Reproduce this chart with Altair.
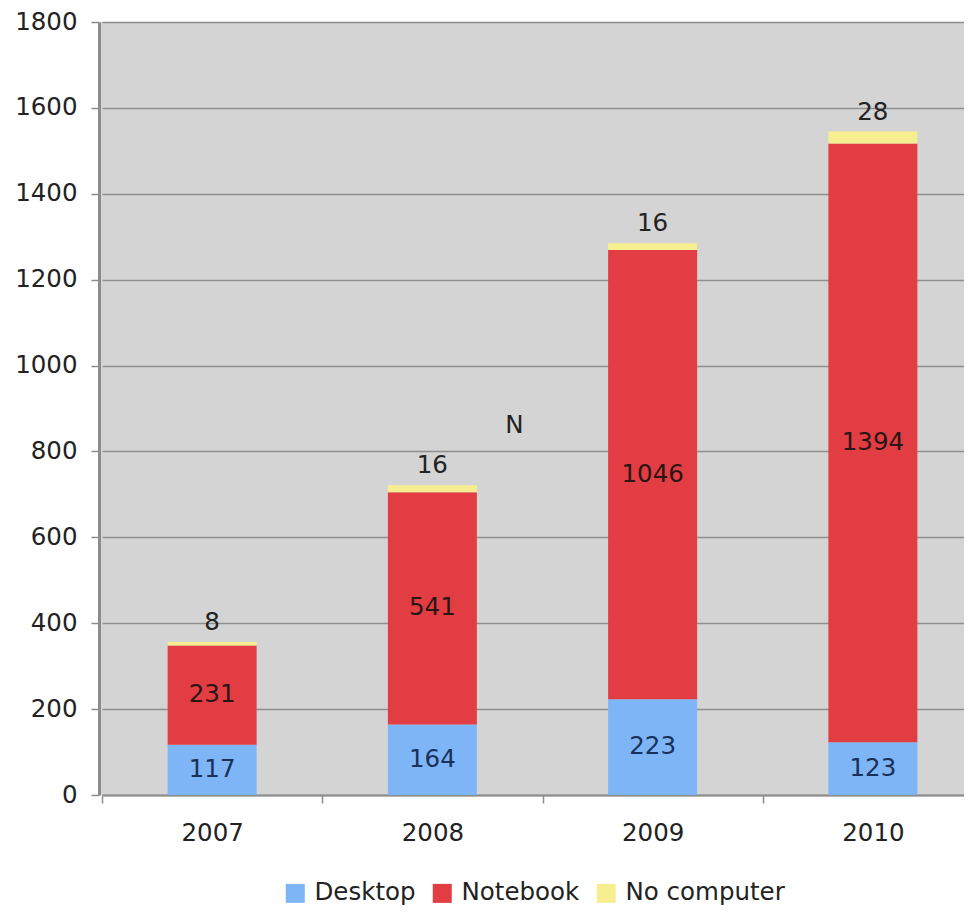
import altair as alt
import pandas as pd

years = ["2007", "2008", "2009", "2010"]
desktop = [117, 164, 223, 123]
notebook = [231, 541, 1046, 1394]
no_computer = [8, 16, 16, 28]
series = ["Desktop", "Notebook", "No computer"]
colors = ["#7db5f6", "#e13d43", "#f7ef8f"]
y_ticks = [0, 200, 400, 600, 800, 1000, 1200, 1400, 1600, 1800]
note_text = ["N"]
note_year = ["2008"]
note_value = [860]

FONT = "DejaVu Sans"
FS = 24.5

rows = []
for i, yr in enumerate(years):
    base = 0
    for k, (s, vals) in enumerate(zip(series, [desktop, notebook, no_computer])):
        v = vals[i]
        rows.append({"year": yr, "type": s, "value": v, "order": k,
                     "y0": base, "y1": base + v, "mid": base + v / 2,
                     "label": str(v)})
        base += v
df = pd.DataFrame(rows)
note_df = pd.DataFrame({"year": note_year, "value": note_value, "label": note_text})

x_scale = alt.Scale(domain=years, range=[3, 884], paddingInner=0.594, paddingOuter=0.297)
y_scale = alt.Scale(domain=[0, 1800], nice=False)

x_enc = alt.X("year:N", scale=x_scale, sort=years, title=None,
              axis=alt.Axis(labelAngle=0, labelFont=FONT, labelFontSize=FS, labelColor="#222222",
                            domainColor="#8c8c8c", domainWidth=2, tickColor="#8c8c8c",
                            tickSize=8, tickWidth=1.5, tickOffset=-110, labelOffset=110,
                            labelPadding=18, grid=False))

bars = alt.Chart(df).mark_bar(size=89).encode(
    x=x_enc,
    y=alt.Y("y0:Q", scale=y_scale, title=None,
            axis=alt.Axis(values=y_ticks, format="d", labelFont=FONT, labelFontSize=FS,
                          labelColor="#222222", domainColor="#8c8c8c", domainWidth=3,
                          tickColor="#8c8c8c", tickSize=8, tickWidth=1.5, labelPadding=14,
                          grid=True, gridColor="#8e8e8e", gridWidth=1.5)),
    y2="y1:Q",
    color=alt.Color("type:N", scale=alt.Scale(domain=series, range=colors),
                    legend=alt.Legend(title=None, orient="none", direction="horizontal",
                                      legendX=184, legendY=859, symbolType="square",
                                      symbolSize=361, symbolStrokeWidth=0, labelFont=FONT,
                                      labelFontSize=FS, labelColor="#222222", labelOffset=7,
                                      columnPadding=14, padding=0)),
)

inner = alt.Chart(df[df["type"] != "No computer"]).mark_text(
    font=FONT, fontSize=FS, baseline="middle", align="center").encode(
    x=alt.X("year:N", scale=x_scale, sort=years),
    y=alt.Y("mid:Q", scale=y_scale),
    text="label:N",
    color=alt.Color("type:N", scale=alt.Scale(domain=["Desktop", "Notebook"],
                                              range=["#1a3058", "#2a1515"]), legend=None),
)

top = alt.Chart(df[df["type"] == "No computer"]).mark_text(
    font=FONT, fontSize=FS, baseline="bottom", align="center", dy=-7, color="#222222").encode(
    x=alt.X("year:N", scale=x_scale, sort=years),
    y=alt.Y("y1:Q", scale=y_scale),
    text="label:N",
)

note = alt.Chart(note_df).mark_text(
    font=FONT, fontSize=FS, baseline="middle", align="center", dx=82, color="#222222").encode(
    x=alt.X("year:N", scale=x_scale, sort=years),
    y=alt.Y("value:Q", scale=y_scale),
    text="label:N",
)

chart = alt.layer(bars, inner, top, note).resolve_scale(color="independent").properties(
    width=865, height=773,
    autosize=alt.AutoSizeParams(type="none"),
    padding={"left": 91, "top": 14, "right": 0, "bottom": 112},
    background="white",
).configure_view(fill="#d4d4d4", stroke=None)

chart.save("out.html", embed_options={"renderer": "svg", "actions": False})
